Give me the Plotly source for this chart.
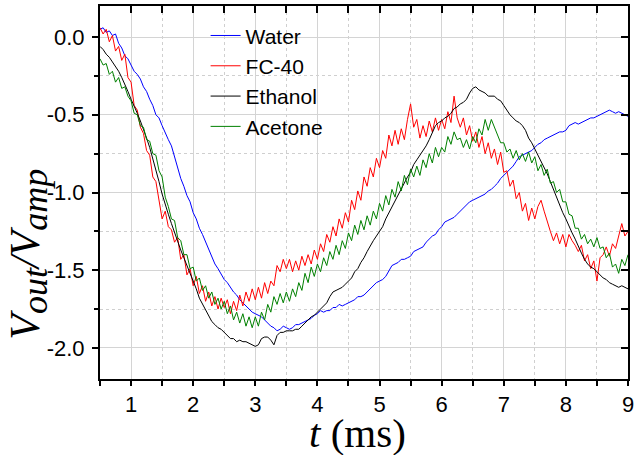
import plotly.graph_objects as go

# sampling grid (ms)
t = [round(0.5 + 0.05 * i, 2) for i in range(171)]

water = [0.05, 0.06, 0.03, 0.04, 0.01, 0.02, -0.04, -0.07, -0.12, -0.14,
         -0.18, -0.22, -0.24, -0.27, -0.32, -0.35, -0.40, -0.44, -0.50, -0.52,
         -0.57, -0.62, -0.66, -0.70, -0.77, -0.84, -0.91, -0.96, -1.02, -1.06,
         -1.13, -1.17, -1.23, -1.27, -1.32, -1.36, -1.41, -1.46, -1.49, -1.53,
         -1.56, -1.58, -1.61, -1.64, -1.66, -1.69, -1.71, -1.73, -1.75, -1.77,
         -1.78, -1.79, -1.80, -1.82, -1.84, -1.86, -1.87, -1.89, -1.88, -1.86,
         -1.87, -1.88, -1.87, -1.85, -1.85, -1.84, -1.83, -1.82, -1.81, -1.79,
         -1.78, -1.76, -1.77, -1.76, -1.76, -1.74, -1.74, -1.72, -1.73, -1.72,
         -1.71, -1.70, -1.69, -1.67, -1.67, -1.66, -1.64, -1.62, -1.60, -1.58,
         -1.57, -1.56, -1.54, -1.50, -1.47, -1.46, -1.45, -1.43, -1.43, -1.42,
         -1.41, -1.38, -1.37, -1.36, -1.35, -1.32, -1.30, -1.28, -1.27, -1.24,
         -1.22, -1.19, -1.18, -1.17, -1.16, -1.14, -1.12, -1.10, -1.08, -1.06,
         -1.05, -1.04, -1.03, -1.02, -1.01, -0.99, -0.98, -0.96, -0.94, -0.91,
         -0.89, -0.87, -0.85, -0.83, -0.80, -0.77, -0.76, -0.75, -0.74, -0.73,
         -0.71, -0.69, -0.68, -0.66, -0.65, -0.64, -0.63, -0.62, -0.61, -0.61,
         -0.60, -0.57, -0.56, -0.55, -0.56, -0.55, -0.54, -0.53, -0.52, -0.52,
         -0.51, -0.50, -0.49, -0.48, -0.47, -0.48, -0.49, -0.48, -0.49, -0.50,
         -0.51]

fc40 = [0.06, 0.02, 0.05, -0.03, 0.01, -0.09, -0.06, -0.15, -0.11, -0.26,
        -0.29, -0.44, -0.47, -0.58, -0.62, -0.73, -0.76, -0.90, -0.93, -1.05,
        -1.17, -1.12, -1.22, -1.24, -1.32, -1.29, -1.43, -1.40, -1.53, -1.49,
        -1.60, -1.54, -1.65, -1.60, -1.70, -1.64, -1.73, -1.67, -1.75, -1.68,
        -1.74, -1.69, -1.78, -1.70, -1.76, -1.66, -1.73, -1.64, -1.70, -1.62,
        -1.69, -1.61, -1.68, -1.58, -1.65, -1.57, -1.60, -1.47, -1.51, -1.43,
        -1.49, -1.43, -1.51, -1.44, -1.50, -1.41, -1.47, -1.40, -1.46, -1.37,
        -1.43, -1.33, -1.38, -1.27, -1.32, -1.22, -1.28, -1.17, -1.23, -1.13,
        -1.19, -1.05, -1.11, -0.99, -1.05, -0.90, -0.96, -0.84, -0.90, -0.78,
        -0.84, -0.73, -0.78, -0.63, -0.70, -0.60, -0.69, -0.59, -0.66, -0.53,
        -0.43, -0.58, -0.53, -0.65, -0.57, -0.64, -0.54, -0.61, -0.52, -0.60,
        -0.53, -0.59, -0.48, -0.55, -0.38, -0.52, -0.58, -0.52, -0.63, -0.57,
        -0.67, -0.61, -0.71, -0.64, -0.75, -0.68, -0.78, -0.72, -0.82, -0.74,
        -0.87, -0.86, -0.96, -0.92, -1.04, -1.00, -1.12, -1.07, -1.18, -1.10,
        -1.17, -1.09, -1.05, -1.12, -1.19, -1.25, -1.31, -1.26, -1.33, -1.27,
        -1.35, -1.27, -1.31, -1.34, -1.38, -1.34, -1.44, -1.40, -1.49, -1.44,
        -1.57, -1.42, -1.40, -1.35, -1.41, -1.33, -1.36, -1.28, -1.20, -1.28,
        -1.25]

ethanol = [-0.06, -0.08, -0.11, -0.13, -0.16, -0.19, -0.22, -0.26, -0.30, -0.35,
           -0.40, -0.44, -0.49, -0.54, -0.59, -0.65, -0.71, -0.78, -0.85, -0.93,
           -1.01, -1.08, -1.14, -1.20, -1.26, -1.31, -1.37, -1.42, -1.47, -1.51,
           -1.57, -1.62, -1.68, -1.72, -1.76, -1.80, -1.83, -1.85, -1.87, -1.88,
           -1.90, -1.92, -1.94, -1.94, -1.96, -1.95, -1.96, -1.96, -1.97, -1.98,
           -1.99, -1.98, -1.94, -1.93, -1.93, -1.95, -1.98, -1.92, -1.90, -1.90,
           -1.89, -1.89, -1.89, -1.88, -1.88, -1.86, -1.84, -1.82, -1.80, -1.79,
           -1.77, -1.75, -1.73, -1.71, -1.67, -1.64, -1.63, -1.62, -1.61, -1.59,
           -1.57, -1.55, -1.51, -1.49, -1.45, -1.42, -1.38, -1.34, -1.31, -1.28,
           -1.25, -1.22, -1.17, -1.13, -1.10, -1.06, -1.01, -0.98, -0.94, -0.90,
           -0.87, -0.82, -0.79, -0.76, -0.73, -0.70, -0.66, -0.62, -0.57, -0.55,
           -0.54, -0.52, -0.51, -0.49, -0.46, -0.45, -0.43, -0.42, -0.40, -0.36,
           -0.33, -0.32, -0.34, -0.35, -0.36, -0.38, -0.38, -0.38, -0.40, -0.41,
           -0.44, -0.47, -0.50, -0.52, -0.54, -0.55, -0.57, -0.60, -0.65, -0.68,
           -0.72, -0.76, -0.79, -0.83, -0.88, -0.93, -0.98, -1.04, -1.09, -1.13,
           -1.17, -1.22, -1.26, -1.30, -1.35, -1.39, -1.43, -1.46, -1.48, -1.49,
           -1.51, -1.53, -1.55, -1.56, -1.58, -1.59, -1.60, -1.61, -1.60, -1.61,
           -1.62]

acetone = [-0.14, -0.18, -0.17, -0.24, -0.22, -0.29, -0.26, -0.33, -0.32, -0.38,
           -0.41, -0.49, -0.50, -0.57, -0.58, -0.66, -0.67, -0.75, -0.76, -0.86,
           -0.90, -1.03, -1.09, -1.17, -1.18, -1.29, -1.31, -1.40, -1.40, -1.49,
           -1.48, -1.57, -1.55, -1.63, -1.60, -1.68, -1.64, -1.72, -1.68, -1.75,
           -1.70, -1.78, -1.73, -1.82, -1.77, -1.84, -1.78, -1.86, -1.80, -1.87,
           -1.80, -1.86, -1.77, -1.82, -1.72, -1.77, -1.67, -1.72, -1.65, -1.71,
           -1.64, -1.70, -1.62, -1.67, -1.58, -1.63, -1.52, -1.58, -1.48, -1.54,
           -1.46, -1.51, -1.42, -1.47, -1.38, -1.43, -1.34, -1.40, -1.31, -1.36,
           -1.26, -1.31, -1.21, -1.27, -1.18, -1.24, -1.15, -1.21, -1.12, -1.17,
           -1.07, -1.12, -1.02, -1.08, -0.98, -1.03, -0.93, -0.99, -0.89, -0.95,
           -0.85, -0.90, -0.83, -0.89, -0.79, -0.84, -0.75, -0.81, -0.71, -0.77,
           -0.71, -0.74, -0.64, -0.69, -0.61, -0.66, -0.65, -0.71, -0.66, -0.72,
           -0.64, -0.68, -0.59, -0.63, -0.53, -0.60, -0.53, -0.58, -0.62, -0.68,
           -0.68, -0.74, -0.72, -0.78, -0.73, -0.79, -0.75, -0.80, -0.74, -0.81,
           -0.77, -0.86, -0.82, -0.89, -0.85, -0.94, -0.93, -1.00, -0.98, -1.06,
           -1.06, -1.14, -1.15, -1.23, -1.23, -1.30, -1.27, -1.33, -1.30, -1.35,
           -1.29, -1.36, -1.35, -1.42, -1.39, -1.48, -1.46, -1.52, -1.43, -1.47,
           -1.40]

series_names = ["Water", "FC-40", "Ethanol", "Acetone"]
series_values = [water, fc40, ethanol, acetone]
series_colors = ["#0000ff", "#ff0000", "#000000", "#008000"]

x_ticks = [1, 2, 3, 4, 5, 6, 7, 8, 9]
y_ticks = [0.0, -0.5, -1.0, -1.5, -2.0]
y_tick_labels = ["0.0", "-0.5", "-1.0", "-1.5", "-2.0"]
x_half_ticks = [0.5 + 0.5 * i for i in range(18)]
y_quarter_ticks = [0.0, -0.25, -0.5, -0.75, -1.0, -1.25, -1.5, -1.75, -2.0]

fig = go.Figure()
for name, vals, col in zip(series_names, series_values, series_colors):
    fig.add_trace(go.Scatter(x=t, y=vals, mode="lines", name=name,
                             line=dict(color=col, width=1)))

# dummy trace for the mirrored (top/right) axes
fig.add_trace(go.Scatter(x=[None], y=[None], xaxis="x2", yaxis="y2",
                         showlegend=False, hoverinfo="skip"))

grid_major = "#d4d4d4"
grid_minor = "#cfcfcf"
sans = "Liberation Sans, Arial, sans-serif"
serif = "Liberation Serif, Times New Roman, serif"
tick_font = dict(family=sans, size=22, color="black")

fig.update_layout(
    width=636, height=455,
    margin=dict(l=100, r=8, t=6, b=76),
    paper_bgcolor="white", plot_bgcolor="white",
    showlegend=True,
    legend=dict(x=0.20, y=0.975, xanchor="left", yanchor="top",
                bgcolor="rgba(0,0,0,0)", borderwidth=0,
                font=dict(family=sans, size=21, color="black"),
                tracegroupgap=0),
    xaxis=dict(range=[0.5, 9], tickmode="array", tickvals=x_ticks,
               ticks="outside", ticklen=5, tickwidth=1.5, tickcolor="black",
               showline=True, linewidth=2, linecolor="black", mirror=False,
               showgrid=True, gridcolor=grid_major, gridwidth=1,
               zeroline=False, tickfont=tick_font, ticklabelstandoff=0,
               minor=dict(tick0=0.5, dtick=0.5, ticks="outside", ticklen=5,
                          tickwidth=1.5, tickcolor="black", showgrid=True,
                          gridcolor=grid_minor, griddash="dot", gridwidth=1),
               automargin=False),
    yaxis=dict(range=[-2.2, 0.2], tickmode="array", tickvals=y_ticks,
               ticktext=y_tick_labels,
               ticks="outside", ticklen=6, tickwidth=1.5, tickcolor="black",
               showline=True, linewidth=2, linecolor="black", mirror=False,
               showgrid=True, gridcolor=grid_major, gridwidth=1,
               zeroline=False, tickfont=tick_font, ticklabelstandoff=3,
               minor=dict(tick0=0.0, dtick=0.25, ticks="outside", ticklen=4,
                          tickwidth=1.5, tickcolor="black", showgrid=True,
                          gridcolor=grid_minor, griddash="dot", gridwidth=1),
               automargin=False),
    xaxis2=dict(overlaying="x", side="top", anchor="y2", range=[0.5, 9],
                tickmode="array", tickvals=x_half_ticks, ticks="inside",
                ticklen=7, tickwidth=1.5, tickcolor="black",
                showticklabels=False, showline=True, linewidth=2,
                linecolor="black", showgrid=False, zeroline=False),
    yaxis2=dict(overlaying="y", side="right", anchor="x2", range=[-2.2, 0.2],
                tickmode="array", tickvals=y_quarter_ticks, ticks="inside",
                ticklen=7, tickwidth=1.5, tickcolor="black",
                showticklabels=False, showline=True, linewidth=2,
                linecolor="black", showgrid=False, zeroline=False),
    annotations=[
        dict(text="<i>t</i> (ms)", xref="paper", yref="paper",
             x=0.487, y=-0.145, xanchor="center", yanchor="middle",
             showarrow=False,
             font=dict(family=serif, size=41, color="black")),
        dict(text=("<i>V</i><sub><span style=\"font-size:36px\"><i>out</i></span></sub>"
                   "<i>/V</i><sub><span style=\"font-size:36px\"><i>amp</i></span></sub>"),
             xref="paper", yref="paper", x=-0.135, y=0.335,
             xanchor="center", yanchor="middle", textangle=-90, showarrow=False,
             font=dict(family=serif, size=42, color="black")),
    ],
)

fig.write_html("out.html", config={"displayModeBar": False},
               post_script="document.body.style.margin='0';")
